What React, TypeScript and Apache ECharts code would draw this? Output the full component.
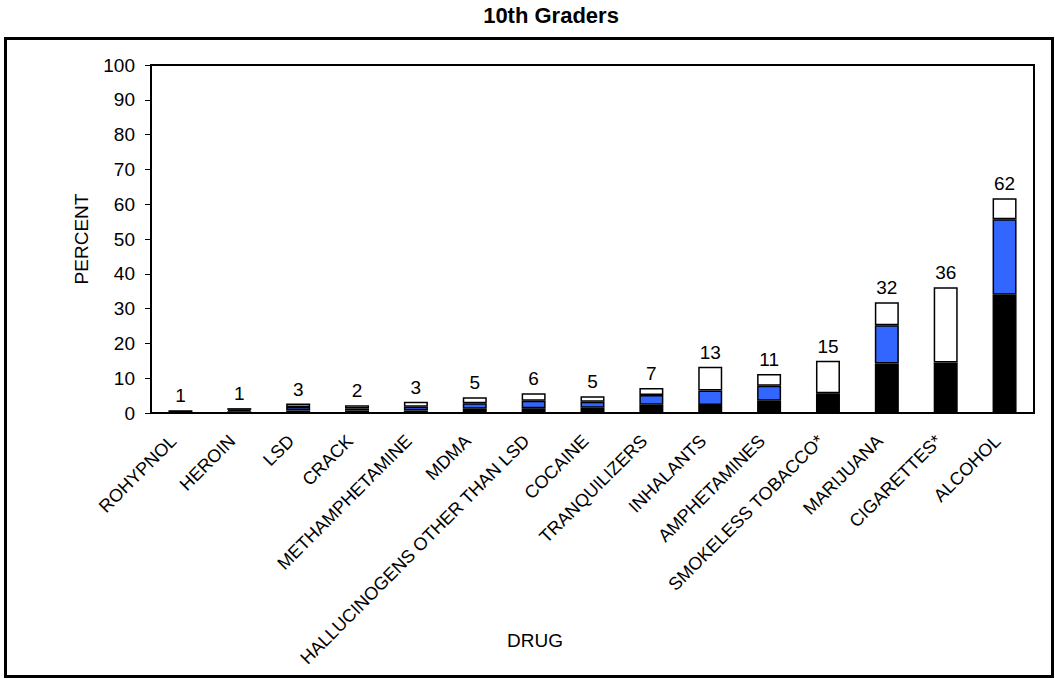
import React, { useEffect, useRef } from "react";
import * as echarts from "echarts";

const categories = [
  "ROHYPNOL",
  "HEROIN",
  "LSD",
  "CRACK",
  "METHAMPHETAMINE",
  "MDMA",
  "HALLUCINOGENS OTHER THAN LSD",
  "COCAINE",
  "TRANQUILIZERS",
  "INHALANTS",
  "AMPHETAMINES",
  "SMOKELESS TOBACCO*",
  "MARIJUANA",
  "CIGARETTES*",
  "ALCOHOL",
];

// segment heights (percent)
const pastMonth = [0.8, 0.5, 0.7, 0.7, 0.7, 1.2, 1.4, 1.5, 2.4, 2.3, 3.5, 5.7, 14.2, 14.5, 34.0];
const pastYearExtra: (number | null)[] = [null, 0.4, 1.0, 0.6, 1.1, 1.6, 2.1, 1.7, 2.8, 4.2, 4.3, null, 11.0, null, 21.7];
const lifetimeExtra: (number | null)[] = [null, 0.5, 1.0, 0.9, 1.4, 1.7, 2.2, 1.6, 2.0, 6.8, 3.4, 9.3, 6.6, 21.6, 6.0];
const totalLabels = ["1", "1", "3", "2", "3", "5", "6", "5", "7", "13", "11", "15", "32", "36", "62"];

const yTicks = { min: 0, max: 100, interval: 10 };

const FONT = "'Liberation Sans', Arial, sans-serif";

export default function App() {
  const ref = useRef<HTMLDivElement>(null);
  useEffect(() => {
    if (!ref.current) return;
    const chart = echarts.init(ref.current, undefined, { renderer: "svg" });
    const border = { borderColor: "#000", borderWidth: 1.5 };
    chart.setOption({
      animation: false,
      backgroundColor: "#fff",
      textStyle: { fontFamily: FONT, color: "#000" },
      grid: {
        left: 151,
        right: 21,
        top: 65,
        bottom: 266,
        show: true,
        borderColor: "#000",
        borderWidth: 2,
      },
      graphic: [
        {
          type: "rect",
          shape: { x: 5.5, y: 38.5, width: 1047, height: 638 },
          style: { fill: "none", stroke: "#000", lineWidth: 3 },
          silent: true,
        },
        {
          type: "text",
          x: 551,
          y: 4,
          style: {
            text: "10th Graders",
            textAlign: "center",
            textVerticalAlign: "top",
            font: `bold 22px ${FONT}`,
            fill: "#000",
          },
        },
        {
          type: "text",
          x: 535,
          y: 640,
          style: {
            text: "DRUG",
            textAlign: "center",
            textVerticalAlign: "middle",
            font: `19px ${FONT}`,
            fill: "#000",
          },
        },
      ],
      xAxis: {
        type: "category",
        data: categories,
        axisLine: { lineStyle: { color: "#000", width: 2 } },
        axisTick: { show: false },
        axisLabel: {
          interval: 0,
          rotate: 45,
          margin: 18,
          padding: [0, 10, 0, 0],
          fontSize: 18,
          fontFamily: FONT,
          color: "#000",
        },
      },
      yAxis: {
        type: "value",
        min: yTicks.min,
        max: yTicks.max,
        interval: yTicks.interval,
        name: "PERCENT",
        nameLocation: "middle",
        nameRotate: 90,
        nameGap: 60,
        nameTextStyle: { fontSize: 19, fontFamily: FONT, color: "#000" },
        axisLine: { show: true, lineStyle: { color: "#000", width: 2 } },
        axisTick: { show: true, length: 6, lineStyle: { color: "#000", width: 1 } },
        splitLine: { show: false },
        axisLabel: { fontSize: 19, margin: 16, fontFamily: FONT, color: "#000" },
      },
      series: [
        {
          name: "Past Month",
          type: "bar",
          stack: "s",
          barWidth: 24,
          data: pastMonth,
          itemStyle: { color: "#000", ...border },
        },
        {
          name: "Past Year",
          type: "bar",
          stack: "s",
          data: pastYearExtra.map((v) => (v == null ? "-" : v)),
          itemStyle: { color: "#3366ff", ...border },
        },
        {
          name: "Lifetime",
          type: "bar",
          stack: "s",
          data: lifetimeExtra.map((v) => (v == null ? "-" : v)),
          itemStyle: { color: "#fff", ...border },
        },
        {
          name: "Total",
          type: "bar",
          stack: "s",
          data: categories.map(() => 0),
          itemStyle: { color: "rgba(0,0,0,0)", borderWidth: 0 },
          label: {
            show: true,
            position: "top",
            distance: 5,
            fontSize: 19,
            fontFamily: FONT,
            color: "#000",
            formatter: (p: any) => totalLabels[p.dataIndex],
          },
        },
      ],
    });
    return () => chart.dispose();
  }, []);
  return (
    <div
      ref={ref}
      style={{ position: "absolute", left: 0, top: 0, width: 1055, height: 679 }}
    />
  );
}
